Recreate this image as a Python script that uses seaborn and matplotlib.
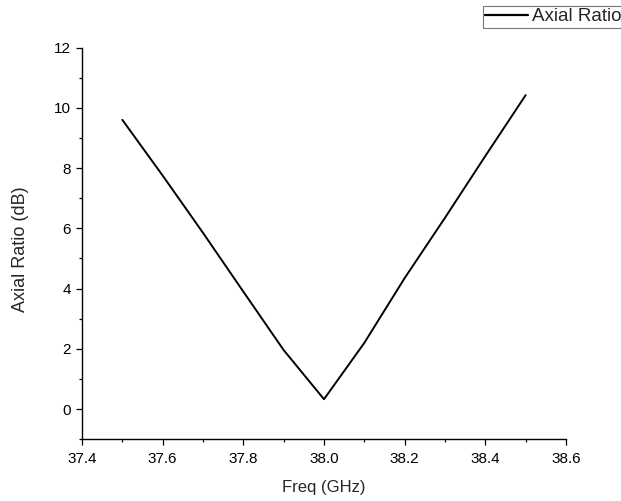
import matplotlib
matplotlib.use("Agg")
import matplotlib.pyplot as plt
from matplotlib.ticker import MultipleLocator, FormatStrFormatter
from matplotlib.lines import Line2D
import seaborn as sns
import pandas as pd

freq = [37.5, 37.6, 37.7, 37.8, 37.9, 38.0, 38.1, 38.2, 38.3, 38.4, 38.5]
axial_ratio = [9.6, 7.75, 5.85, 3.9, 1.96, 0.33, 2.2, 4.35, 6.35, 8.4, 10.42]
series_name = "Axial Ratio"
x_label = "Freq (GHz)"
y_label = "Axial Ratio (dB)"

df = pd.DataFrame({"freq": freq, "ar": axial_ratio, "series": series_name})

sns.set_style("ticks")
plt.rcParams["font.family"] = ["Liberation Sans", "DejaVu Sans"]

W, H = 621, 501
fig = plt.figure(figsize=(W / 100, H / 100), dpi=100)
left, right, top, bottom = 82, 566, 47.5, 439.3
ax = fig.add_axes([left / W, 1 - bottom / H, (right - left) / W, (bottom - top) / H])

sns.lineplot(data=df, x="freq", y="ar", hue="series", palette=["black"],
             linewidth=1.4, ax=ax, legend=False)

ax.set_xlim(37.4, 38.6)
ax.set_ylim(-1, 12)
ax.xaxis.set_major_locator(MultipleLocator(0.2))
ax.xaxis.set_minor_locator(MultipleLocator(0.1))
ax.yaxis.set_major_locator(MultipleLocator(2))
ax.yaxis.set_minor_locator(MultipleLocator(1))
ax.xaxis.set_major_formatter(FormatStrFormatter("%.1f"))

for s in ["top", "right"]:
    ax.spines[s].set_visible(False)
for s in ["left", "bottom"]:
    ax.spines[s].set_linewidth(1.0)
    ax.spines[s].set_color("black")

ax.tick_params(axis="both", which="major", direction="out", length=4.3, width=0.9,
               labelsize=11, colors="black")
ax.tick_params(axis="x", which="major", pad=5)
ax.tick_params(axis="y", which="major", pad=3.5)
ax.tick_params(axis="both", which="minor", direction="out", length=2.5, width=0.9,
               colors="black")

ax.set_xlabel(x_label, fontsize=12, labelpad=10)
ax.set_ylabel(y_label, fontsize=13)
ax.yaxis.set_label_coords(-(82 - 29) / (right - left), 0.485)

handle = Line2D([], [], color="black", linewidth=1.6)
leg = fig.legend([handle], [series_name], loc="upper left",
                 bbox_to_anchor=(483 / W, 1 - 6 / H), fontsize=13.5,
                 frameon=True, fancybox=False, shadow=False, handlelength=2.3,
                 handletextpad=0.22, borderpad=0.12, borderaxespad=0)
leg.get_frame().set_edgecolor("#555555")
leg.get_frame().set_linewidth(0.8)

fig.savefig("out.png", dpi=100)
